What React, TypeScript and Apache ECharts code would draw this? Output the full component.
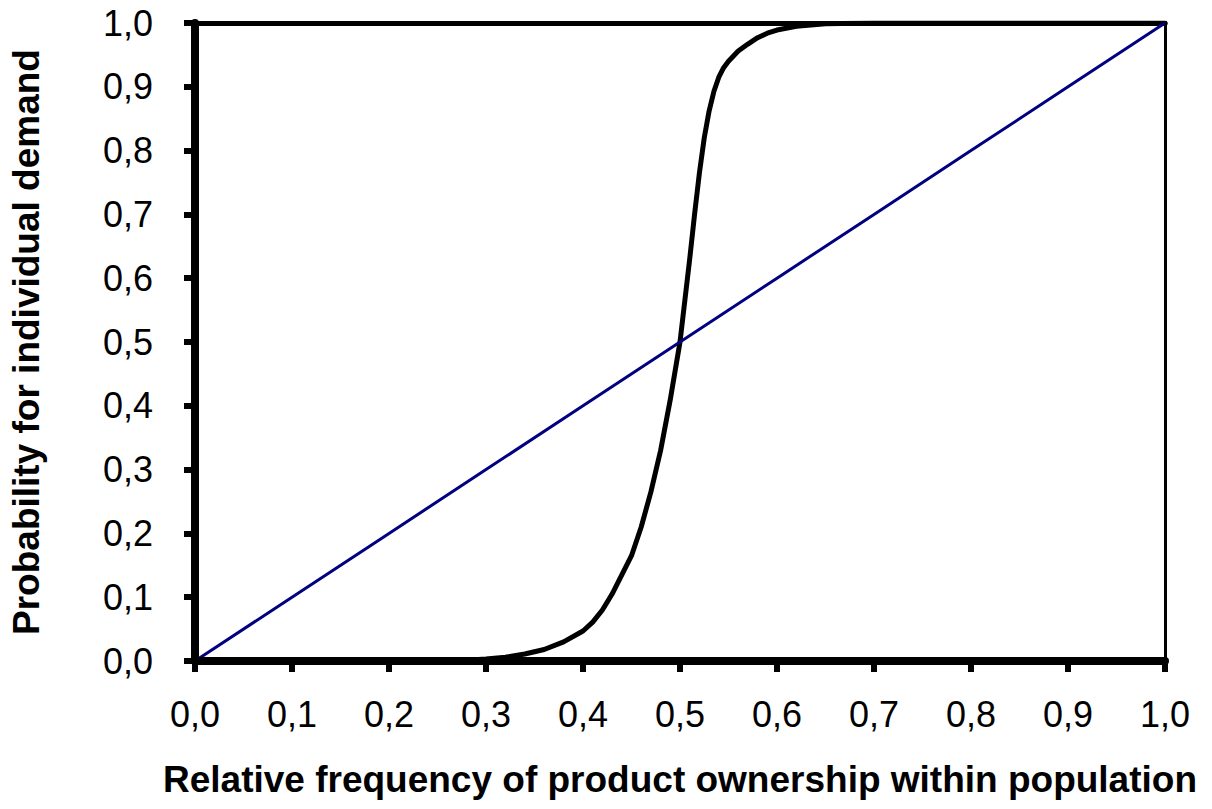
import React, { useEffect, useRef } from "react";
import * as echarts from "echarts";

// S-shaped demand probability curve (x = relative frequency, y = probability)
const sCurveX = [0, 0.1, 0.2, 0.25, 0.28, 0.3, 0.32, 0.34, 0.36, 0.38, 0.4, 0.41, 0.42, 0.43, 0.44, 0.45, 0.46, 0.47, 0.48, 0.49, 0.5, 0.505, 0.51, 0.515, 0.52, 0.525, 0.53, 0.535, 0.54, 0.545, 0.55, 0.56, 0.57, 0.58, 0.59, 0.6, 0.62, 0.65, 0.7, 0.8, 0.9, 1.0];
const sCurveY = [0, 0, 0, 0, 0.001, 0.003, 0.006, 0.011, 0.018, 0.03, 0.047, 0.061, 0.08, 0.105, 0.135, 0.165, 0.21, 0.265, 0.33, 0.41, 0.5, 0.565, 0.63, 0.7, 0.765, 0.82, 0.862, 0.893, 0.915, 0.93, 0.94, 0.956, 0.967, 0.977, 0.984, 0.989, 0.995, 0.999, 1, 1, 1, 1];

// Diagonal reference line
const diagX = [0, 0.1, 0.2, 0.3, 0.4, 0.5, 0.6, 0.7, 0.8, 0.9, 1.0];
const diagY = [0, 0.1, 0.2, 0.3, 0.4, 0.5, 0.6, 0.7, 0.8, 0.9, 1.0];

const xTitle = "Relative frequency of product ownership within population";
const yTitle = "Probability for individual demand";

const FONT = "'Liberation Sans', Arial, sans-serif";
const fmt = (v: number) => v.toFixed(1).replace(".", ",");

export default function App() {
  const ref = useRef<HTMLDivElement>(null);
  useEffect(() => {
    if (!ref.current) return;
    const chart = echarts.init(ref.current, undefined, { renderer: "svg" });
    chart.setOption({
      animation: false,
      backgroundColor: "#ffffff",
      grid: { left: 189, right: 47, top: 23, bottom: 148 },
      xAxis: [
        {
          type: "value",
          min: 0,
          max: 1,
          interval: 0.1,
          position: "bottom",
          name: xTitle,
          nameLocation: "middle",
          nameGap: 100,
          nameTextStyle: { fontFamily: FONT, fontWeight: "bold", fontSize: 37, color: "#000" },
          axisLine: { show: true, onZero: false, lineStyle: { color: "#000", width: 8 } },
          axisTick: { show: true, length: 11, lineStyle: { color: "#000", width: 6 } },
          axisLabel: { fontFamily: FONT, fontSize: 36, color: "#000", margin: 35, formatter: fmt },
          splitLine: { show: false },
          z: 10,
        },
        {
          type: "value",
          min: 0,
          max: 1,
          position: "top",
          axisLine: { show: true, onZero: false, lineStyle: { color: "#000", width: 5 } },
          axisTick: { show: false },
          axisLabel: { show: false },
          splitLine: { show: false },
        },
      ],
      yAxis: [
        {
          type: "value",
          min: 0,
          max: 1,
          interval: 0.1,
          position: "left",
          name: yTitle,
          nameLocation: "middle",
          nameGap: 150,
          nameTextStyle: { fontFamily: FONT, fontWeight: "bold", fontSize: 37, color: "#000" },
          axisLine: { show: true, onZero: false, lineStyle: { color: "#000", width: 8 } },
          axisTick: { show: true, length: 11, lineStyle: { color: "#000", width: 6 } },
          axisLabel: { fontFamily: FONT, fontSize: 36, color: "#000", margin: 42, formatter: fmt },
          splitLine: { show: false },
          z: 10,
        },
        {
          type: "value",
          min: 0,
          max: 1,
          position: "right",
          axisLine: { show: true, onZero: false, lineStyle: { color: "#000", width: 3 } },
          axisTick: { show: false },
          axisLabel: { show: false },
          splitLine: { show: false },
        },
      ],
      series: [
        {
          type: "line",
          data: sCurveX.map((x, i) => [x, sCurveY[i]]),
          showSymbol: false,
          smooth: false,
          lineStyle: { color: "#000000", width: 5, join: "round", cap: "round" },
          z: 2,
        },
        {
          type: "line",
          data: diagX.map((x, i) => [x, diagY[i]]),
          showSymbol: false,
          lineStyle: { color: "#000080", width: 3 },
          z: 3,
        },
      ],
    });
    return () => chart.dispose();
  }, []);
  return (
    <div
      ref={ref}
      style={{ position: "absolute", left: 0, top: 0, width: 1212, height: 809 }}
    />
  );
}
